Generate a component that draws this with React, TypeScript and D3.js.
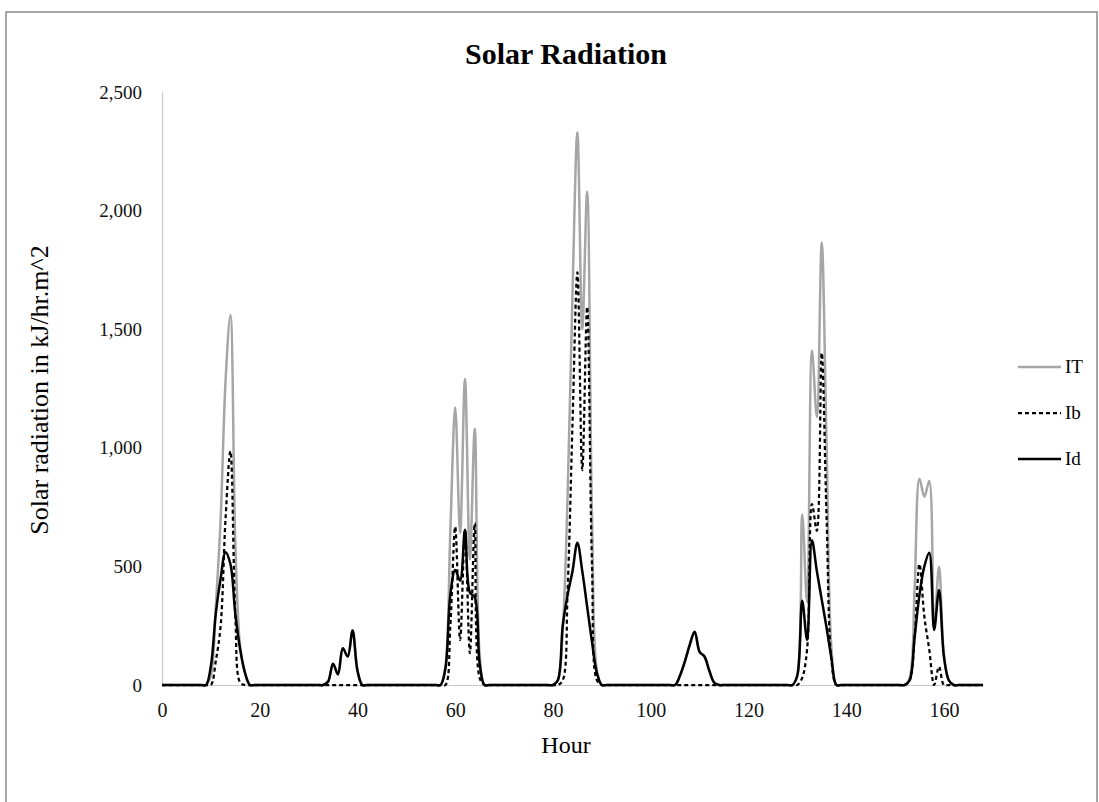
import React, { useEffect, useRef } from "react";
import * as d3 from "d3";

const hourTicks = [0, 20, 40, 60, 80, 100, 120, 140, 160];
const radiationTicks = [0, 500, 1000, 1500, 2000, 2500];

// hourly values, one row per day (last row runs to hour 168)
const totalIT = [
  0, 0, 0, 0, 0, 0, 0, 0, 0, 0, 40, 330, 700, 1280, 1560, 600, 160, 50, 0, 0, 0, 0, 0, 0,
  0, 0, 0, 0, 0, 0, 0, 0, 0, 0, 15, 90, 45, 155, 120, 230, 60, 0, 0, 0, 0, 0, 0, 0,
  0, 0, 0, 0, 0, 0, 0, 0, 0, 0, 80, 650, 1170, 640, 1290, 530, 1080, 130, 0, 0, 0, 0, 0, 0,
  0, 0, 0, 0, 0, 0, 0, 0, 0, 20, 230, 800, 1650, 2330, 1500, 2080, 700, 60, 0, 0, 0, 0, 0, 0,
  0, 0, 0, 0, 0, 0, 0, 0, 0, 0, 40, 100, 170, 225, 140, 120, 60, 10, 0, 0, 0, 0, 0, 0,
  0, 0, 0, 0, 0, 0, 0, 0, 0, 0, 40, 720, 350, 1410, 1130, 1865, 1000, 150, 0, 0, 0, 0, 0, 0,
  0, 0, 0, 0, 0, 0, 0, 0, 0, 30, 400, 870, 794, 860, 240, 499, 130, 20, 0, 0, 0, 0, 0, 0, 0,
];

const beamIb = [
  0, 0, 0, 0, 0, 0, 0, 0, 0, 0, 0, 100, 250, 700, 986, 300, 10, 0, 0, 0, 0, 0, 0, 0,
  0, 0, 0, 0, 0, 0, 0, 0, 0, 0, 0, 0, 0, 0, 0, 0, 0, 0, 0, 0, 0, 0, 0, 0,
  0, 0, 0, 0, 0, 0, 0, 0, 0, 0, 0, 250, 667, 190, 653, 134, 682, 30, 0, 0, 0, 0, 0, 0,
  0, 0, 0, 0, 0, 0, 0, 0, 0, 0, 20, 400, 1100, 1740, 906, 1594, 500, 20, 0, 0, 0, 0, 0, 0,
  0, 0, 0, 0, 0, 0, 0, 0, 0, 0, 0, 0, 0, 0, 0, 0, 0, 0, 0, 0, 0, 0, 0, 0,
  0, 0, 0, 0, 0, 0, 0, 0, 0, 0, 0, 30, 150, 763, 650, 1400, 700, 100, 0, 0, 0, 0, 0, 0,
  0, 0, 0, 0, 0, 0, 0, 0, 0, 20, 200, 510, 288, 150, 0, 77, 0, 0, 0, 0, 0, 0, 0, 0, 0,
];

const diffuseId = [
  0, 0, 0, 0, 0, 0, 0, 0, 0, 0, 80, 300, 450, 560, 510, 300, 150, 50, 0, 0, 0, 0, 0, 0,
  0, 0, 0, 0, 0, 0, 0, 0, 0, 0, 15, 90, 45, 155, 120, 230, 60, 0, 0, 0, 0, 0, 0, 0,
  0, 0, 0, 0, 0, 0, 0, 0, 0, 0, 70, 380, 485, 440, 655, 390, 370, 90, 0, 0, 0, 0, 0, 0,
  0, 0, 0, 0, 0, 0, 0, 0, 0, 20, 250, 380, 480, 600, 480, 330, 180, 50, 0, 0, 0, 0, 0, 0,
  0, 0, 0, 0, 0, 0, 0, 0, 0, 0, 40, 100, 170, 225, 140, 120, 60, 10, 0, 0, 0, 0, 0, 0,
  0, 0, 0, 0, 0, 0, 0, 0, 0, 0, 40, 355, 190, 610, 480, 360, 240, 110, 0, 0, 0, 0, 0, 0,
  0, 0, 0, 0, 0, 0, 0, 0, 0, 20, 200, 380, 500, 558, 232, 400, 120, 20, 0, 0, 0, 0, 0, 0, 0,
];

const seriesNames = ["IT", "Ib", "Id"];

const FONT = "'Liberation Serif', 'Times New Roman', serif";

const App = () => {
  const svgRef = useRef<SVGSVGElement>(null);

  useEffect(() => {
    const svg = d3.select(svgRef.current);
    svg.selectAll("*").remove();

    const width = 1099;
    const height = 802;
    const margin = { top: 92, right: 116, bottom: 117, left: 162 };

    const x = d3
      .scaleLinear()
      .domain([0, 168])
      .range([margin.left, width - margin.right]);

    const y = d3
      .scaleLinear()
      .domain([0, 2500])
      .range([height - margin.bottom, margin.top]);

    // marco exterior
    svg
      .append("rect")
      .attr("x", 6)
      .attr("y", 12)
      .attr("width", 1091)
      .attr("height", 800)
      .attr("fill", "white")
      .attr("stroke", "#8a8a8a")
      .attr("stroke-width", 1.5);

    // Título
    svg
      .append("text")
      .attr("x", 566)
      .attr("y", 64)
      .attr("text-anchor", "middle")
      .attr("font-family", FONT)
      .attr("font-size", 30)
      .attr("font-weight", "bold")
      .text("Solar Radiation");

    // Eje Y
    const yAxisG = svg
      .append("g")
      .attr("transform", `translate(${margin.left},0)`)
      .call(
        d3
          .axisLeft(y)
          .tickValues(radiationTicks)
          .tickSize(0)
          .tickPadding(20)
          .tickFormat(d3.format(","))
      );
    yAxisG.select("path").attr("stroke", "#c8c8c8").attr("stroke-width", 1.2);
    yAxisG
      .selectAll("text")
      .attr("font-family", FONT)
      .attr("font-size", 19)
      .attr("fill", "#111");

    // Eje X
    const xAxisG = svg
      .append("g")
      .attr("transform", `translate(0,${height - margin.bottom})`)
      .call(d3.axisBottom(x).tickValues(hourTicks).tickSize(0).tickPadding(18));
    xAxisG.select("path").attr("stroke", "#c8c8c8").attr("stroke-width", 1.2);
    xAxisG
      .selectAll("text")
      .attr("font-family", FONT)
      .attr("font-size", 20)
      .attr("fill", "#111");

    // Títulos de ejes
    svg
      .append("text")
      .attr("x", 566)
      .attr("y", 753)
      .attr("text-anchor", "middle")
      .attr("font-family", FONT)
      .attr("font-size", 24)
      .text("Hour");

    svg
      .append("text")
      .attr("transform", "rotate(-90)")
      .attr("x", -390)
      .attr("y", 48)
      .attr("text-anchor", "middle")
      .attr("font-family", FONT)
      .attr("font-size", 26)
      .text("Solar radiation in kJ/hr.m^2");

    const styles = [
      { values: totalIT, stroke: "#a6a6a6", dash: null, w: 2.5 },
      { values: beamIb, stroke: "#000", dash: "4,3", w: 2.25 },
      { values: diffuseId, stroke: "#000", dash: null, w: 2.5 },
    ];

    const line = d3
      .line<number>()
      .x((d, i) => x(i))
      .y((d) => y(d))
      .curve(d3.curveCatmullRom.alpha(0.5));

    styles.forEach((s) => {
      svg
        .append("path")
        .datum(s.values)
        .attr("fill", "none")
        .attr("stroke", s.stroke)
        .attr("stroke-width", s.w)
        .attr("stroke-dasharray", s.dash)
        .attr("stroke-linejoin", "round")
        .attr("d", line);
    });

    // Leyenda
    const legend = svg.append("g").attr("transform", "translate(1018, 367)");
    seriesNames.forEach((name, i) => {
      const row = legend.append("g").attr("transform", `translate(0, ${i * 46})`);
      row
        .append("line")
        .attr("x1", 0)
        .attr("x2", 43)
        .attr("stroke", styles[i].stroke)
        .attr("stroke-width", styles[i].w)
        .attr("stroke-dasharray", styles[i].dash);
      row
        .append("text")
        .attr("x", 47)
        .attr("y", 6)
        .attr("font-family", FONT)
        .attr("font-size", 19)
        .text(name);
    });
  }, []);

  return (
    <div style={{ position: "absolute", left: 0, top: 0 }}>
      <svg ref={svgRef} width={1099} height={802} style={{ display: "block" }} />
    </div>
  );
};

export default App;
